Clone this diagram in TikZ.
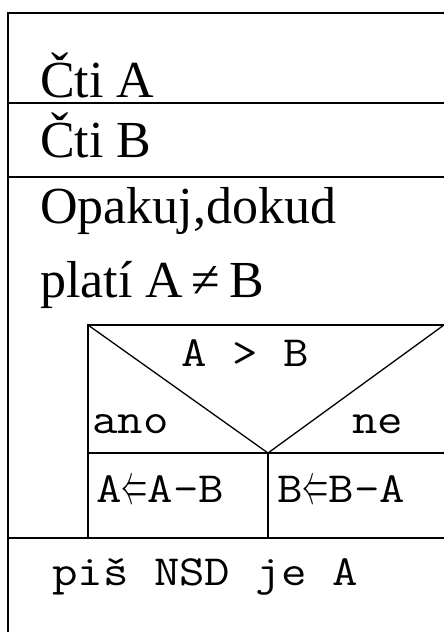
\documentclass[tikz,border=0pt]{standalone}
\usepackage{fontspec}
\setmainfont{Liberation Serif}
\newfontfamily\monof[FakeStretch=1.15]{Latin Modern Mono}
\newcommand{\larr}{\makebox[26pt]{\raisebox{-1pt}{\resizebox{26pt}{21pt}{$\Leftarrow$}}}}
\begin{document}
\begin{tikzpicture}[x=1pt,y=-1pt,
  rule/.style={line width=1.6pt,line cap=rect},
  serif/.style={anchor=base west,inner sep=0pt,font=\fontsize{52}{60}\selectfont},
  mono/.style={anchor=base west,inner sep=0pt,font=\monof\fontsize{43}{50}\selectfont}]
\useasboundingbox (0,0) rectangle (444,632);
\clip (0,0) rectangle (444,632);
\fill[white] (0,0) rectangle (444,632);
% frame coordinates
\coordinate (TL) at (8,13);
\coordinate (TR) at (446,13);
\coordinate (L1) at (8,103);
\coordinate (R1) at (446,103);
\coordinate (L2) at (8,177);
\coordinate (R2) at (446,177);
\coordinate (BL) at (8,640);
\coordinate (ML) at (8,538);
\coordinate (MR) at (446,538);
\coordinate (IT) at (88,325);
\coordinate (ITR) at (444,325);
\coordinate (IM) at (88,453);
\coordinate (V) at (268,453);
\coordinate (IMR) at (446,453);
\coordinate (IB) at (88,538);
\coordinate (VB) at (268,538);
% lines
\draw[rule] (TL) -- (BL);
\draw[rule] (TL) -- (TR);
\draw[rule] (L1) -- (R1);
\draw[rule] (L2) -- (R2);
\draw[rule] (ML) -- (MR);
\draw[rule] (IT) -- (ITR);
\draw[rule] (IT) -- (IB);
\draw[rule] (IM) -- (IMR);
\draw[rule] (V) -- (VB);
\draw[line width=1.3pt] (IT) -- (V) -- (ITR);
% texts
\node[serif] (ctiA) at (40,97) {Čti A};
\node[serif] (ctiB) at (40,157) {Čti B};
\node[serif] (op1) at (40,223) {Opakuj,dokud};
\node[serif] (op2) at (40,297) {platí A\,≠\,B};
\node[mono] (cond) at (181,366) {A > B};
\node[mono] (ano) at (92,433) {ano};
\node[mono] (ne) at (352,433) {ne};
\node[mono] (asg1) at (96,502) {A\larr A-B};
\node[mono] (asg2) at (277,502) {B\larr B-A};
\node[mono] (out) at (52,585) {piš NSD je A};
\end{tikzpicture}
\end{document}
